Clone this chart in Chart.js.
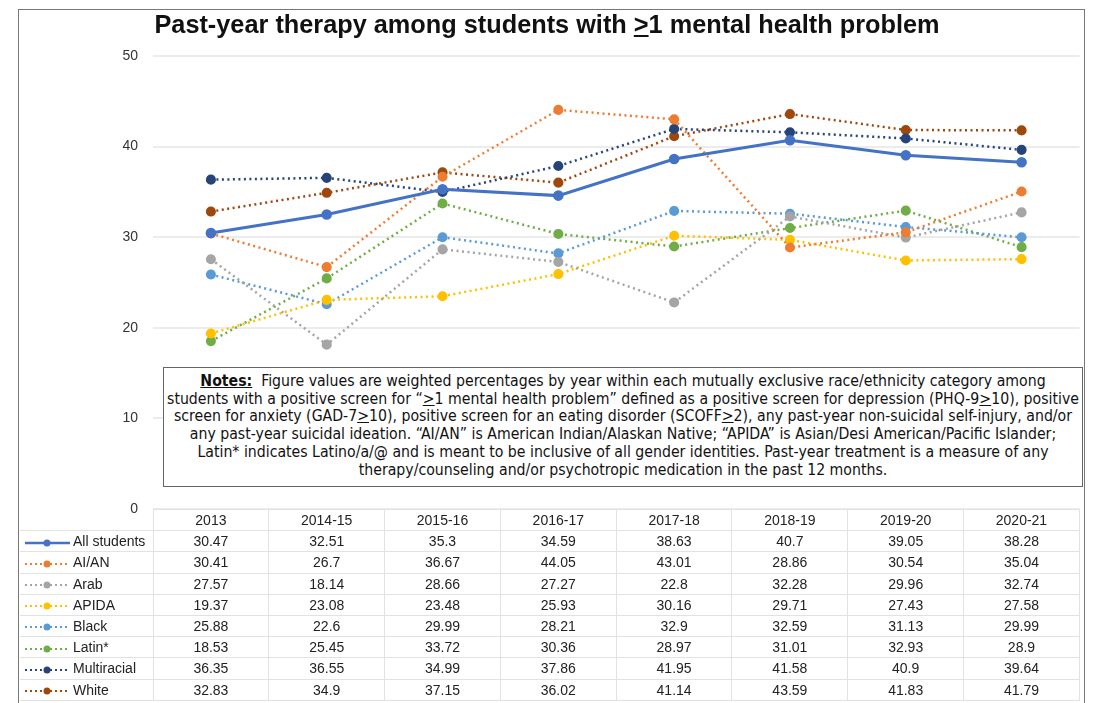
<!DOCTYPE html>
<html>
<head>
<meta charset="utf-8">
<script src="https://cdn.jsdelivr.net/npm/chart.js@4.4.1/dist/chart.umd.min.js"></script>
<style>
body{margin:0;background:#fff;font-family:Arial,"Liberation Sans",sans-serif;}
#wrap{position:relative;width:1094px;height:703px;overflow:hidden;background:#fff;}
#chart{position:absolute;left:0;top:0;}
#frame{position:absolute;left:18px;top:9px;width:1067px;height:720px;border:1.5px solid #777;box-sizing:border-box;pointer-events:none;}
#title{position:absolute;left:0;top:10px;width:1094px;text-align:center;font-weight:bold;font-size:25.3px;color:#111;}
#notes{position:absolute;left:163px;top:367px;width:920px;height:120px;border:1px solid #666;background:#fff;text-align:center;
 font-family:"Liberation Sans Narrow","Arial Narrow","DejaVu Sans Condensed",sans-serif;font-size:15.7px;line-height:17.7px;color:#111;padding-top:4px;box-sizing:border-box;white-space:nowrap;}
#tbl{position:absolute;left:20px;top:509px;border-collapse:collapse;table-layout:fixed;font-size:14px;color:#222;}
#tbl td{height:20.2px;padding:0;text-align:center;border:1px solid #e2e2e2;white-space:nowrap;}
#tbl td.key{text-align:left;border-left:none;}
#tbl tr:first-child td.key{border:none;}
#tbl svg{vertical-align:middle;margin-right:3px;}
</style>
</head>
<body>
<div id="wrap">
  <canvas id="chart" width="1094" height="703"></canvas>
  <div id="title">Past-year therapy among students with <u>&gt;</u>1 mental health problem</div>
  <div id="notes">
    <b><u>Notes:</u></b>&nbsp; Figure values are weighted percentages by year within each mutually exclusive race/ethnicity category among<br>
    students with a positive screen for “<u>&gt;</u>1 mental health problem” defined as a positive screen for depression (PHQ-9<u>&gt;</u>10), positive<br>
    screen for anxiety (GAD-7<u>&gt;</u>10), positive screen for an eating disorder (SCOFF<u>&gt;</u>2), any past-year non-suicidal self-injury, and/or<br>
    any past-year suicidal ideation. “AI/AN” is American Indian/Alaskan Native; “APIDA” is Asian/Desi American/Pacific Islander;<br>
    Latin* indicates Latino/a/@ and is meant to be inclusive of all gender identities. Past-year treatment is a measure of any<br>
    therapy/counseling and/or psychotropic medication in the past 12 months.
  </div>
  <table id="tbl"></table>
  <div id="frame"></div>
</div>
<script>
var years = ['2013', '2014-15', '2015-16', '2016-17', '2017-18', '2018-19', '2019-20', '2020-21'];
var allStudents = [30.47, 32.51, 35.3, 34.59, 38.63, 40.7, 39.05, 38.28];
var aian        = [30.41, 26.7, 36.67, 44.05, 43.01, 28.86, 30.54, 35.04];
var arab        = [27.57, 18.14, 28.66, 27.27, 22.8, 32.28, 29.96, 32.74];
var apida       = [19.37, 23.08, 23.48, 25.93, 30.16, 29.71, 27.43, 27.58];
var black       = [25.88, 22.6, 29.99, 28.21, 32.9, 32.59, 31.13, 29.99];
var latin       = [18.53, 25.45, 33.72, 30.36, 28.97, 31.01, 32.93, 28.9];
var multiracial = [36.35, 36.55, 34.99, 37.86, 41.95, 41.58, 40.9, 39.64];
var white       = [32.83, 34.9, 37.15, 36.02, 41.14, 43.59, 41.83, 41.79];
var yTicks = [0, 10, 20, 30, 40, 50];

var series = [
  {name: 'All students', data: allStudents, color: '#4472C4', solid: true},
  {name: 'AI/AN', data: aian, color: '#ED7D31'},
  {name: 'Arab', data: arab, color: '#A5A5A5'},
  {name: 'APIDA', data: apida, color: '#FFC000'},
  {name: 'Black', data: black, color: '#5B9BD5'},
  {name: 'Latin*', data: latin, color: '#70AD47'},
  {name: 'Multiracial', data: multiracial, color: '#264478'},
  {name: 'White', data: white, color: '#9E480E'}
];

var datasets = series.map(function (s) {
  return {
    label: s.name,
    data: s.data,
    borderColor: s.color,
    backgroundColor: s.color,
    pointBackgroundColor: s.color,
    pointBorderColor: s.color,
    borderWidth: s.solid ? 3 : 2.5,
    borderDash: s.solid ? [] : [2, 3.5],
    pointRadius: 3.8,
    pointStyle: 'circle',
    tension: 0,
    fill: false
  };
});

// data table under the chart
var tbl = document.getElementById('tbl');
var html = '<colgroup><col style="width:133px">';
years.forEach(function () { html += '<col style="width:115.8px">'; });
html += '</colgroup><tr><td class="key"></td>';
years.forEach(function (y) { html += '<td>' + y + '</td>'; });
html += '</tr>';
series.forEach(function (s) {
  var dash = s.solid ? '' : ' stroke-dasharray="2 3"';
  var key = '<svg width="50" height="12"><line x1="5" y1="6" x2="50" y2="6" stroke="' + s.color + '" stroke-width="' + (s.solid ? 2.5 : 2.2) + '"' + dash + '/>' +
            '<circle cx="27" cy="6" r="3.5" fill="' + s.color + '"/></svg>';
  html += '<tr><td class="key">' + key + s.name + '</td>';
  s.data.forEach(function (v) { html += '<td>' + v + '</td>'; });
  html += '</tr>';
});
tbl.innerHTML = html;

var ctx = document.getElementById('chart');
var chart = new Chart(ctx, {
  type: 'line',
  data: {labels: years, datasets: datasets},
  options: {
    responsive: false,
    animation: false,
    layout: {padding: {top: 56, right: 14.5, bottom: 194, left: 0}},
    plugins: {legend: {display: false}, title: {display: false}, tooltip: {enabled: false}},
    scales: {
      x: {display: false, offset: true},
      y: {
        min: 0, max: 50,
        afterBuildTicks: function (s) { s.ticks = yTicks.map(function (v) { return {value: v}; }); },
        afterFit: function (s) { s.width = 153; },
        ticks: {padding: 15, color: '#333', font: {family: 'Arial', size: 14}},
        grid: {color: '#ececec', lineWidth: 2, drawTicks: false},
        border: {display: false}
      }
    }
  }
});
</script>
</body>
</html>
